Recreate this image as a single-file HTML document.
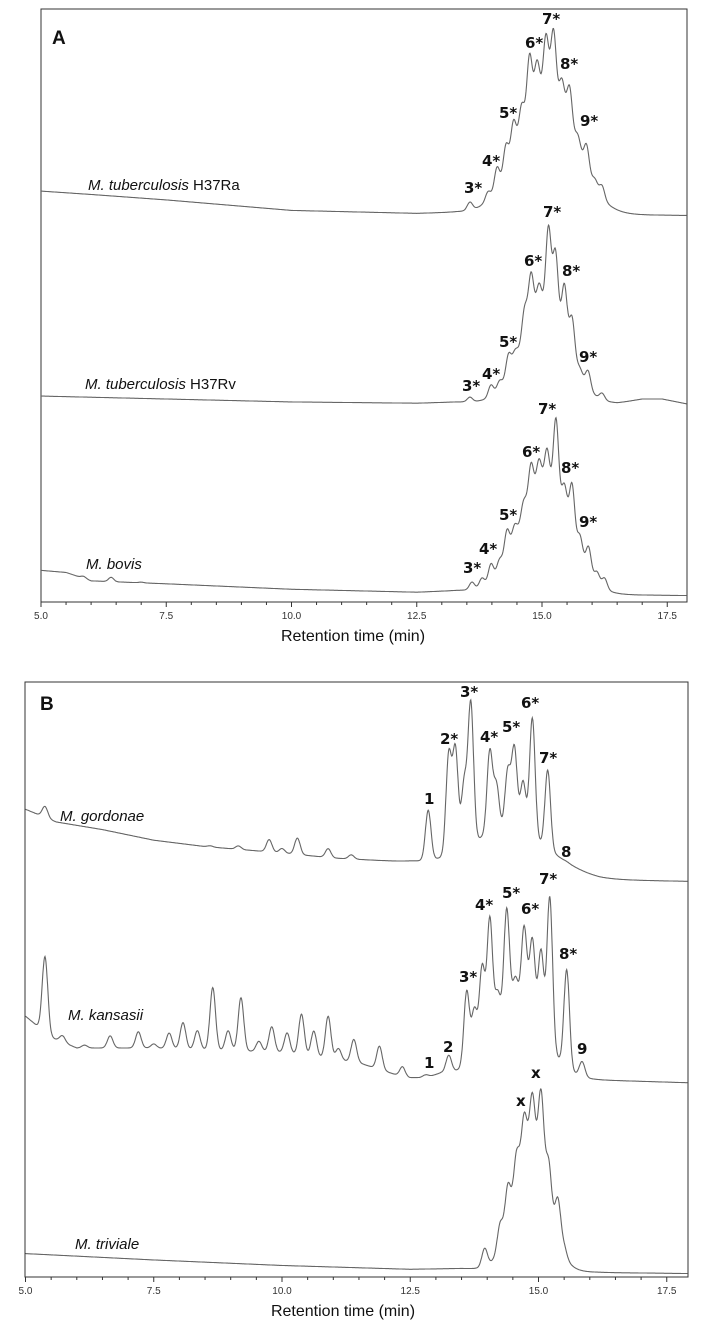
<!DOCTYPE html>
<html><head><meta charset="utf-8">
<style>
body{margin:0;background:#fff;}
svg{display:block;font-family:"Liberation Sans",Arial,sans-serif;}
.pl{font-family:"DejaVu Sans","Liberation Sans",sans-serif;font-weight:bold;font-size:15px;fill:#111;}
.tl{font-family:"Liberation Sans",sans-serif;font-style:italic;font-size:15px;fill:#111;}
.tk{font-size:10px;fill:#333;}
.panel{font-family:"Liberation Sans",sans-serif;font-weight:bold;font-size:19px;fill:#111;}
</style></head>
<body>
<svg id="chart" width="705" height="1328" viewBox="0 0 705 1328"></svg>
<script>
// ---------- data (time in min, signal in arbitrary units) ----------
const tickLabels = ["5.0","7.5","10.0","12.5","15.0","17.5"];
const tickValues = [5,7.5,10,12.5,15,17.5];

// Panel A, trace 1: M. tuberculosis H37Ra
const a1BaseT = [5,6,7.5,10,12.5,13.3,16.6,17.9];
const a1BaseV = [58,50,37,12,5,8,2,0];
const a1PeakT = [13.56,13.92,14.1,14.28,14.43,14.59,14.75,14.9,15.08,15.23,15.4,15.55,15.72,15.89,16.06,16.2,16.5];
const a1PeakV = [33,58,118,173,230,268,391,373,438,451,328,313,193,173,88,73,13];
const a1Env = [15.1,0.55,290];
// Panel A, trace 2: M. tuberculosis H37Rv
const a2BaseT = [5,10,12.5,13.3,16.5,17.0,17.4,17.9];
const a2BaseV = [19,5,2,5,2,12,12,0];
const a2PeakT = [13.56,13.98,14.15,14.33,14.46,14.65,14.78,14.94,15.13,15.27,15.45,15.6,15.76,15.92,16.2];
const a2PeakV = [17,47,57,122,129,232,317,290,432,372,292,212,87,82,27];
const a2Env = [15.05,0.45,230];
// Panel A, trace 3: M. bovis
const a3BaseT = [5,5.5,6,7.5,10,12.5,13.3,16.5,17.9];
const a3BaseV = [60,55,35,28,15,8,12,2,0];
const a3PeakT = [5.85,6.4,7.0,13.6,13.8,13.98,14.15,14.3,14.45,14.63,14.78,14.94,15.1,15.28,15.45,15.6,15.76,15.93,16.1,16.25];
const a3PeakV = [46,44,32,33,43,78,88,160,170,228,320,328,355,433,268,273,146,120,58,43];
const a3Env = [15.05,0.5,250];
// Panel B, trace 1: M. gordonae
const b1BaseT = [5,5.6,6.5,7.5,8.5,10,11,12.5,13.2,15.5,16.2,17.9];
const b1BaseV = [170,140,122,97,82,67,55,45,35,12,4,0];
const b1PeakT = [5.38,8.6,9.15,9.75,10.0,10.3,10.9,11.35,11.8,12.5,12.85,13.25,13.38,13.55,13.68,14.05,14.18,14.4,14.53,14.7,14.88,15.18,15.55];
const b1PeakV = [178,84,84,100,78,104,78,63,40,48,174,309,322,237,437,317,232,267,324,242,400,272,47];
const b1Env = [14.45,0.75,100];
// Panel B, trace 2: M. kansasii
const b2BaseT = [5,5.5,6,7.5,10,11.5,12.4,12.8,13.1,16,17.9];
const b2BaseV = [157,107,82,82,72,47,12,12,22,7,0];
const b2PeakT = [5.38,5.72,6.15,6.65,7.2,7.5,7.8,8.07,8.35,8.65,8.95,9.2,9.55,9.8,10.1,10.38,10.62,10.9,11.1,11.4,11.9,12.35,12.8,13.25,13.6,13.75,13.9,14.05,14.2,14.38,14.55,14.72,14.88,15.05,15.22,15.55,15.85];
const b2PeakV = [307,112,89,112,122,92,119,145,125,232,125,207,99,135,120,167,125,162,82,105,89,39,19,67,225,177,282,402,217,425,252,379,349,322,457,279,52];
const b2Env = [14.6,0.5,160];
// Panel B, trace 3: M. triviale
const b3BaseT = [5,7.5,10,12.5,13.5,16.5,17.9];
const b3BaseV = [47,32,19,10,12,2,0];
const b3PeakT = [13.95,14.25,14.4,14.57,14.72,14.88,15.05,15.2,15.38,15.5];
const b3PeakV = [62,122,215,292,382,432,442,272,182,67];
const b3Env = [14.85,0.33,270];

// ---------- layout ----------
const NS = "http://www.w3.org/2000/svg";
const svg = document.getElementById('chart');
function mk(tag, attrs, parent){const e=document.createElementNS(NS,tag);for(const k in attrs)e.setAttribute(k,attrs[k]);(parent||svg).appendChild(e);return e;}

const panels = {
  A:{left:41,right:687,top:9,bottom:602,x0:41,ppm:50.1,sy:0.42,oy:0},
  B:{left:25,right:688,top:682,bottom:1277,x0:25.5,ppm:51.3,sy:0.424,oy:660}
};
function xS(p,t){return p.x0+(t-5)*p.ppm;}
function interp(ts,vs,t){if(t<=ts[0])return vs[0];for(let i=1;i<ts.length;i++){if(t<=ts[i]){const f=(t-ts[i-1])/(ts[i]-ts[i-1]);return vs[i-1]+f*(vs[i]-vs[i-1]);}}return vs[vs.length-1];}

function drawTrace(p,zeroY,bt,bv,pt,pv,env,sig,name){
  const envF=t=>env[2]*Math.exp(-((t-env[0])**2)/(2*env[1]*env[1]));
  const amps=pt.map((t,i)=>Math.max(0,(pv[i]-interp(bt,bv,t)-envF(t))*0.95));
  const tmax=5+(p.right-p.x0)/p.ppm;
  let d="";
  for(let t=5;t<=tmax+0.001;t+=0.01){
    let v=interp(bt,bv,t)+envF(t);
    for(let i=0;i<pt.length;i++){v+=amps[i]*Math.exp(-((t-pt[i])**2)/(2*sig*sig));}
    const x=xS(p,t), y=p.oy+(zeroY-v)*p.sy;
    d+=(d?"L":"M")+x.toFixed(1)+","+y.toFixed(1);
  }
  const path=mk('path',{d:d,fill:'none',stroke:'#666','stroke-width':1.1});
  
  
}

function drawAxes(p,key){
  const r=mk('rect',{x:p.left,y:p.top,width:p.right-p.left,height:p.bottom-p.top,fill:'none',stroke:'#333','stroke-width':1});
  
  
  for(let t=5;t<=17.8;t+=0.5){
    const x=xS(p,t);const major=Math.abs(t*2/5-Math.round(t*2/5))<1e-6;
    const tk=mk('line',{x1:x,x2:x,y1:p.bottom,y2:p.bottom+(major?5:3),stroke:'#333','stroke-width':1});
    
    
  }
  tickValues.forEach((v,i)=>{
    const tx=mk('text',{x:xS(p,v),y:p.bottom+17,'text-anchor':'middle',class:'tk'});
    tx.textContent=tickLabels[i];
    
    
  });
  const ti=mk('text',{x:key==='A'?353:343,y:p.bottom+39,'text-anchor':'middle','font-size':'16px',fill:'#111'});
  ti.textContent='Retention time (min)';
  
  
}
function label(x,y,txt,cls,name){
  const e=mk('text',{x:x,y:y,class:cls});e.textContent=txt;
  
  
  return e;
}

const A=panels.A,B=panels.B;
drawAxes(A,'A');drawAxes(B,'B');
drawTrace(A,513,a1BaseT,a1BaseV,a1PeakT,a1PeakV,a1Env,0.052,'trace-h37ra');
drawTrace(A,962,a2BaseT,a2BaseV,a2PeakT,a2PeakV,a2Env,0.052,'trace-h37rv');
drawTrace(A,1418,a3BaseT,a3BaseV,a3PeakT,a3PeakV,a3Env,0.052,'trace-bovis');
drawTrace(B,522,b1BaseT,b1BaseV,b1PeakT,b1PeakV,b1Env,0.054,'trace-gordonae');
drawTrace(B,997,b2BaseT,b2BaseV,b2PeakT,b2PeakV,b2Env,0.054,'trace-kansasii');
drawTrace(B,1447,b3BaseT,b3BaseV,b3PeakT,b3PeakV,b3Env,0.054,'trace-triviale');

label(52,44,'A','panel','panel-a-label');
label(40,710,'B','panel','panel-b-label');

function species(x,y,it,rest,name){
  const e=mk('text',{x:x,y:y,class:'tl'});
  const s=mk('tspan',{},e);s.textContent=it;
  if(rest){const r=mk('tspan',{'font-style':'normal'},e);r.textContent=rest;}
  
  
}
species(88,190,'M. tuberculosis',' H37Ra','label-h37ra');
species(85,389,'M. tuberculosis',' H37Rv','label-h37rv');
species(86,569,'M. bovis','','label-bovis');
species(60,821,'M. gordonae','','label-gordonae');
species(68,1020,'M. kansasii','','label-kansasii');
species(75,1249,'M. triviale','','label-triviale');

const peakLabels=[
 [464,193,'3*'],[482,166,'4*'],[499,118,'5*'],[525,48,'6*'],[542,24,'7*'],[560,69,'8*'],[580,126,'9*'],
 [462,391,'3*'],[482,379,'4*'],[499,347,'5*'],[524,266,'6*'],[543,217,'7*'],[562,276,'8*'],[579,362,'9*'],
 [463,573,'3*'],[479,554,'4*'],[499,520,'5*'],[522,457,'6*'],[538,414,'7*'],[561,473,'8*'],[579,527,'9*'],
 [424,804,'1'],[440,744,'2*'],[460,697,'3*'],[480,742,'4*'],[502,732,'5*'],[521,708,'6*'],[539,763,'7*'],[561,857,'8'],
 [424,1068,'1'],[443,1052,'2'],[459,982,'3*'],[475,910,'4*'],[502,898,'5*'],[521,914,'6*'],[539,884,'7*'],[559,959,'8*'],[577,1054,'9'],
 [516,1106,'x'],[531,1078,'x']
];
peakLabels.forEach(l=>label(l[0],l[1],l[2],'pl','peak-label'));
</script>
</body></html>
